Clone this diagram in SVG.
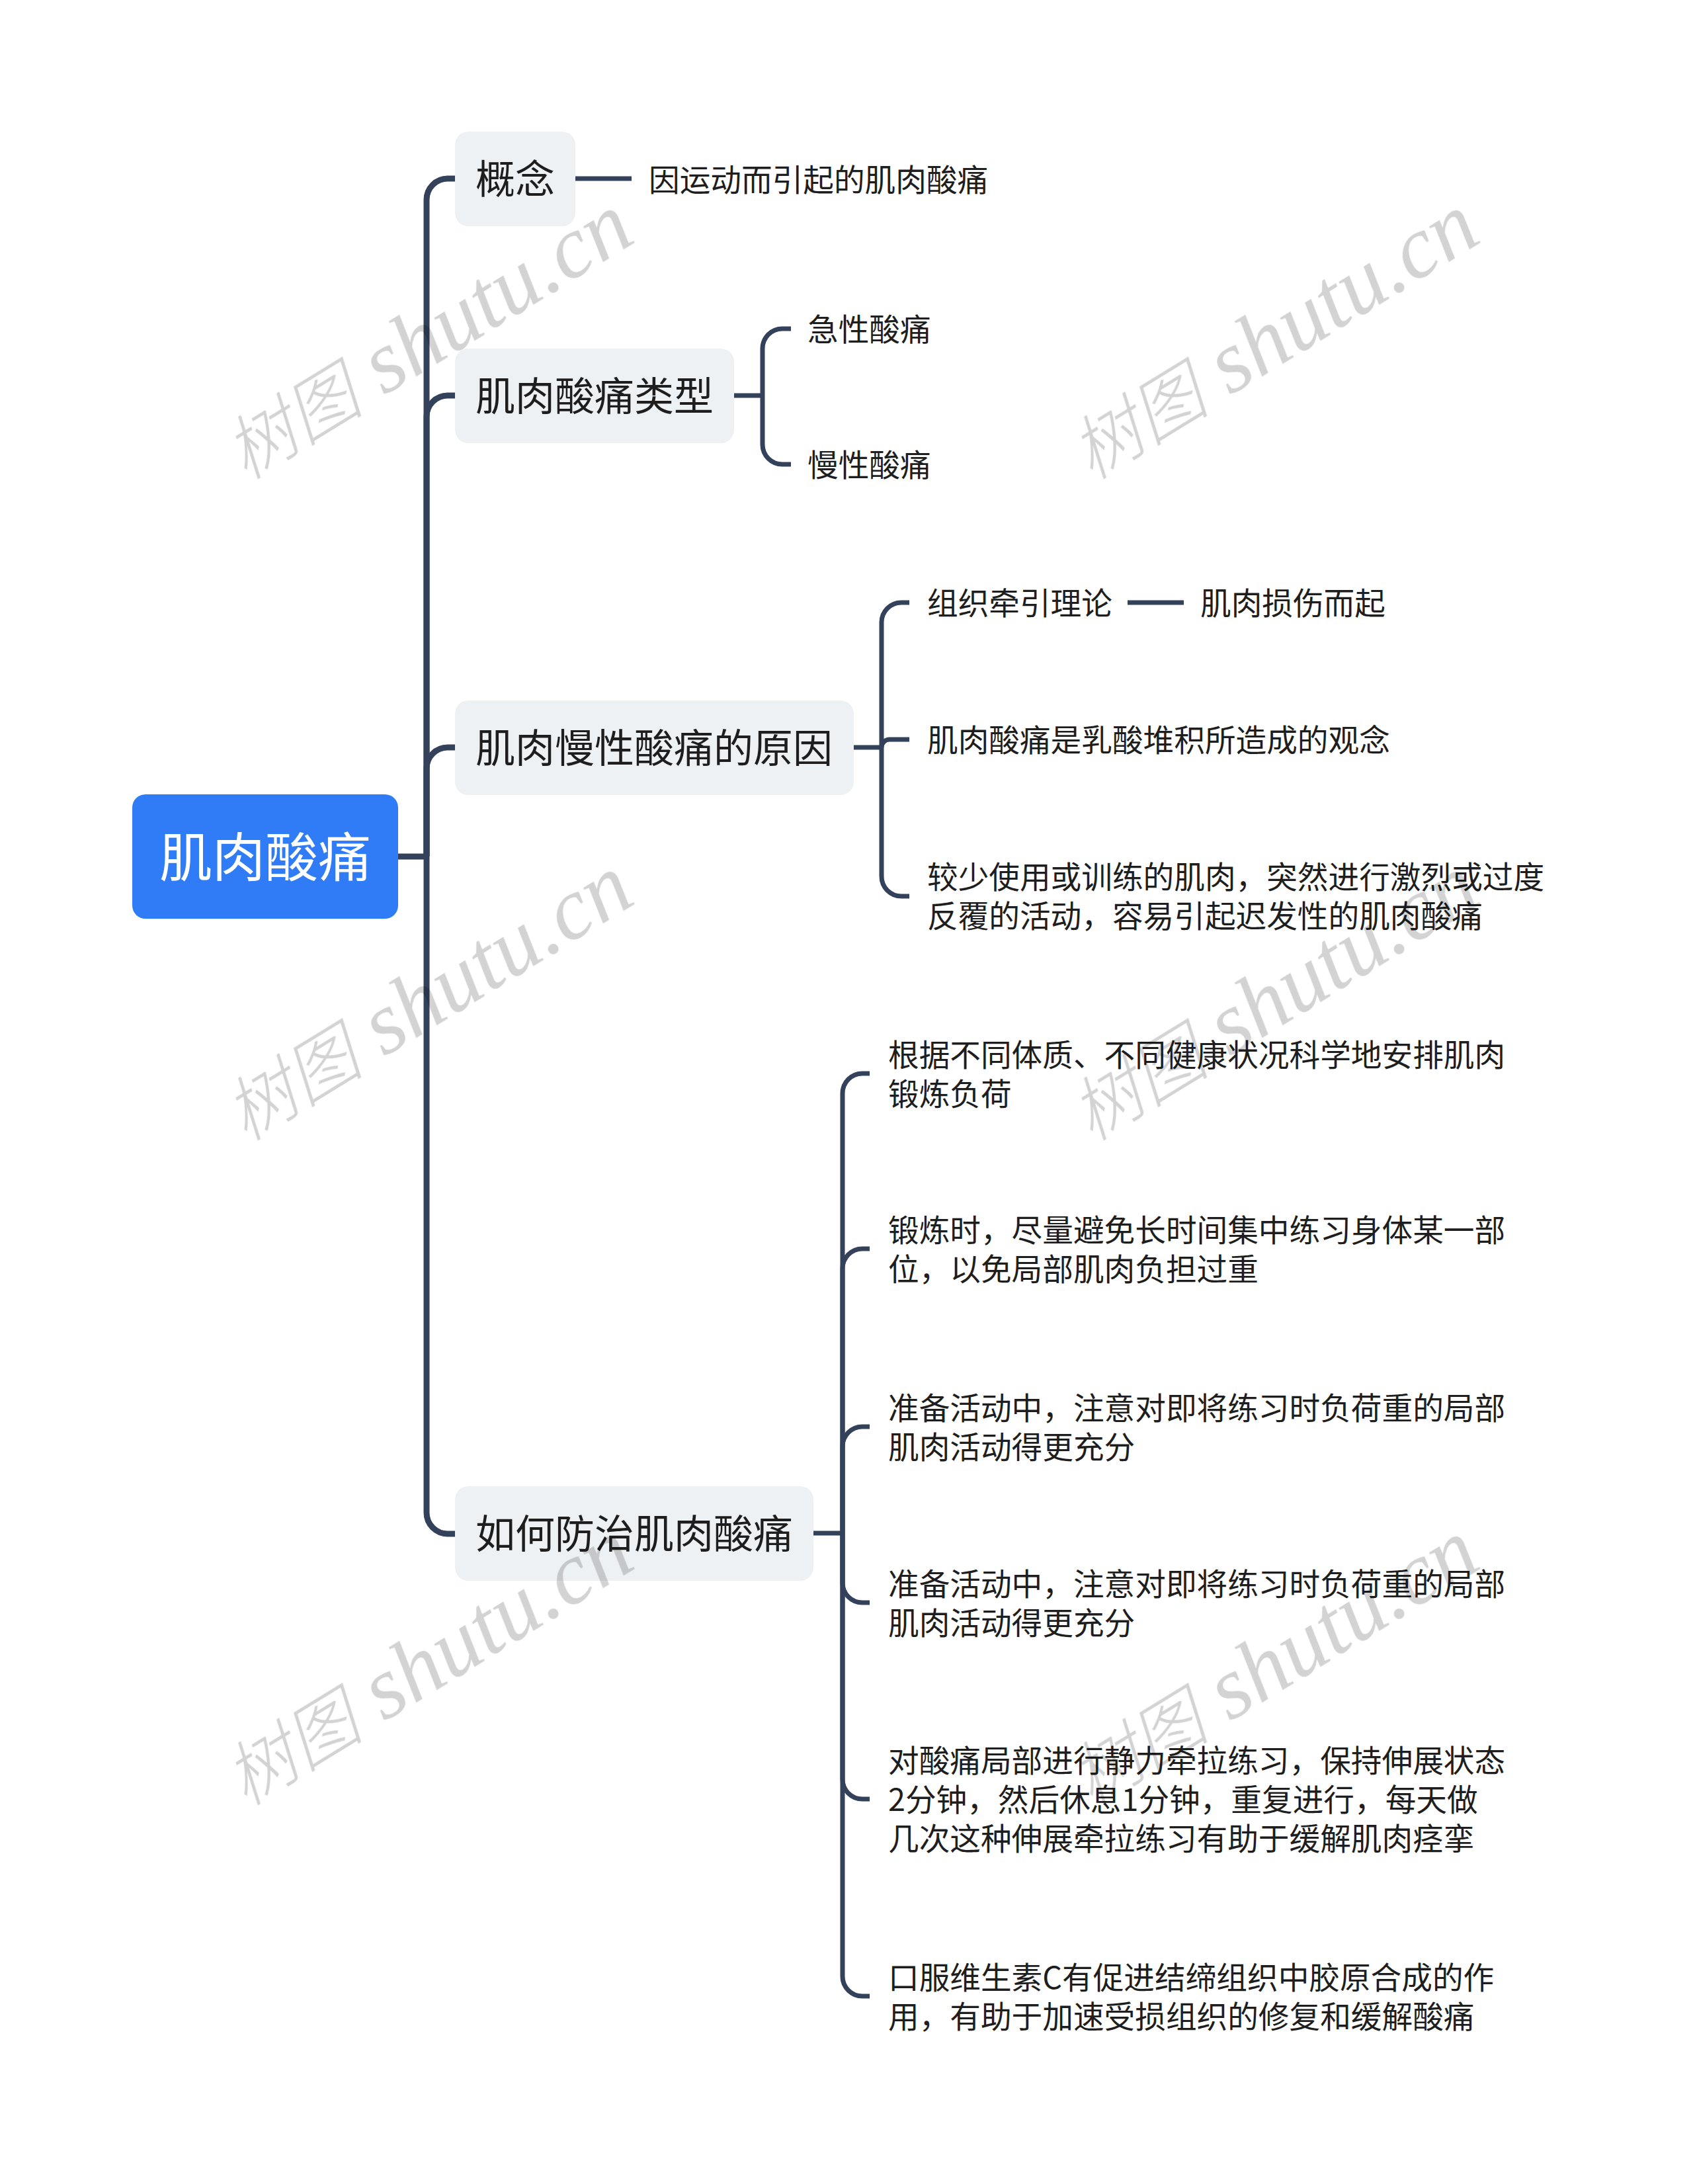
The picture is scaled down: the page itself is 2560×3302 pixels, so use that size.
<svg xmlns="http://www.w3.org/2000/svg" width="2560" height="3302" viewBox="0 0 2560 3302">
<style>
.root-box{fill:#2f7cf6;}
.box{fill:#eef1f4;}
.t0{font-family:"Noto Sans CJK SC","Noto Sans",sans-serif;font-size:80px;fill:#ffffff;}
.t1{font-family:"Noto Sans CJK SC","Noto Sans",sans-serif;font-size:60px;fill:#1e1e1e;}
.t2{font-family:"Noto Sans CJK SC","Noto Sans",sans-serif;font-size:46.67px;fill:#1e1e1e;}
.c-main{fill:none;stroke:#33425a;stroke-width:9;}
.c-sub{fill:none;stroke:#33425a;stroke-width:7;}
.wm{font-family:"Liberation Serif","Noto Sans CJK SC",serif;font-style:italic;font-size:134px;fill:#d3d3d3;text-anchor:middle;}
.wm .cjk{font-size:106px;font-weight:300;}
.wmg{mix-blend-mode:multiply;}
</style>
<rect x="0" y="0" width="2560" height="3302" fill="#ffffff"/>
<g id="connectors">
  <path class="c-main" d="M602,1295 H645"/>
  <path class="c-main" d="M645,1295 V302 A32,32 0 0 1 677,270 H688"/>
  <path class="c-main" d="M645,1295 V630 A32,32 0 0 1 677,598 H688"/>
  <path class="c-main" d="M645,1295 V1162 A32,32 0 0 1 677,1130 H688"/>
  <path class="c-main" d="M645,1295 V2287 A32,32 0 0 0 677,2319 H688"/>
  <path class="c-sub" d="M869,270 H955"/>
  <path class="c-sub" d="M1110,598 H1153"/>
  <path class="c-sub" d="M1153,598 V527 A30,30 0 0 1 1183,497 H1196"/>
  <path class="c-sub" d="M1153,598 V672 A30,30 0 0 0 1183,702 H1196"/>
  <path class="c-sub" d="M1291,1130 H1333"/>
  <path class="c-sub" d="M1333,1130 V941 A30,30 0 0 1 1363,911 H1375"/>
  <path class="c-sub" d="M1333,1130 A12,12 0 0 1 1345,1118 H1375"/>
  <path class="c-sub" d="M1333,1130 V1325 A30,30 0 0 0 1363,1355 H1375"/>
  <path class="c-sub" d="M1705,911 H1790"/>
  <path class="c-sub" d="M1230,2318 H1274"/>
  <path class="c-sub" d="M1274,2318 V1653 A30,30 0 0 1 1304,1623 H1315"/>
  <path class="c-sub" d="M1274,2318 V1918 A30,30 0 0 1 1304,1888 H1315"/>
  <path class="c-sub" d="M1274,2318 V2187 A30,30 0 0 1 1304,2157 H1315"/>
  <path class="c-sub" d="M1274,2318 V2393 A30,30 0 0 0 1304,2423 H1315"/>
  <path class="c-sub" d="M1274,2318 V2690 A30,30 0 0 0 1304,2720 H1315"/>
  <path class="c-sub" d="M1274,2318 V2988 A30,30 0 0 0 1304,3018 H1315"/>
</g>
<g id="root">
  <rect class="root-box" x="200" y="1201" width="402" height="188" rx="20"/>
  <text class="t0" x="401" y="1325" text-anchor="middle">肌肉酸痛</text>
</g>
<g id="n-gainian">
  <rect class="box" x="688" y="199" width="182" height="143" rx="20"/>
  <text class="t1" x="719" y="293">概念</text>
</g>
<g id="n-leixing">
  <rect class="box" x="688" y="527" width="422" height="143" rx="20"/>
  <text class="t1" x="719" y="621">肌肉酸痛类型</text>
</g>
<g id="n-yuanyin">
  <rect class="box" x="688" y="1059" width="603" height="143" rx="20"/>
  <text class="t1" x="719" y="1153">肌肉慢性酸痛的原因</text>
</g>
<g id="n-fangzhi">
  <rect class="box" x="688" y="2247" width="542" height="143" rx="20"/>
  <text class="t1" x="719" y="2341">如何防治肌肉酸痛</text>
</g>
<g id="n-gainian-1"><text class="t2" x="981" y="289">因运动而引起的肌肉酸痛</text></g>
<g id="n-jixing"><text class="t2" x="1221" y="515">急性酸痛</text></g>
<g id="n-manxing"><text class="t2" x="1221" y="720">慢性酸痛</text></g>
<g id="n-zuzhi"><text class="t2" x="1402" y="929">组织牵引理论</text></g>
<g id="n-sunshang"><text class="t2" x="1815" y="929">肌肉损伤而起</text></g>
<g id="n-rusuan"><text class="t2" x="1402" y="1136">肌肉酸痛是乳酸堆积所造成的观念</text></g>
<g id="n-jiaoshao"><text class="t2" x="1402" y="1343">较少使用或训练的肌肉，突然进行激烈或过度<tspan x="1402" dy="59">反覆的活动，容易引起迟发性的肌肉酸痛</tspan></text></g>
<g id="n-genju"><text class="t2" x="1343" y="1612">根据不同体质、不同健康状况科学地安排肌肉<tspan x="1343" dy="59">锻炼负荷</tspan></text></g>
<g id="n-duanlian"><text class="t2" x="1343" y="1877">锻炼时，尽量避免长时间集中练习身体某一部<tspan x="1343" dy="59">位，以免局部肌肉负担过重</tspan></text></g>
<g id="n-zhunbei1"><text class="t2" x="1343" y="2146">准备活动中，注意对即将练习时负荷重的局部<tspan x="1343" dy="59">肌肉活动得更充分</tspan></text></g>
<g id="n-zhunbei2"><text class="t2" x="1343" y="2412">准备活动中，注意对即将练习时负荷重的局部<tspan x="1343" dy="59">肌肉活动得更充分</tspan></text></g>
<g id="n-qianla"><text class="t2" x="1343" y="2679">对酸痛局部进行静力牵拉练习，保持伸展状态<tspan x="1343" dy="59">2分钟，然后休息1分钟，重复进行，每天做</tspan><tspan x="1343" dy="59">几次这种伸展牵拉练习有助于缓解肌肉痉挛</tspan></text></g>
<g id="n-weishengsu"><text class="t2" x="1343" y="3007">口服维生素C有促进结缔组织中胶原合成的作<tspan x="1343" dy="59">用，有助于加速受损组织的修复和缓解酸痛</tspan></text></g>
<g id="watermarks" class="wmg">
  <text class="wm" transform="translate(647,511) rotate(-31.5)" y="40"><tspan class="cjk">树图</tspan> shutu.cn</text>
  <text class="wm" transform="translate(1926,511) rotate(-31.5)" y="40"><tspan class="cjk">树图</tspan> shutu.cn</text>
  <text class="wm" transform="translate(647,1511) rotate(-31.5)" y="40"><tspan class="cjk">树图</tspan> shutu.cn</text>
  <text class="wm" transform="translate(1926,1511) rotate(-31.5)" y="40"><tspan class="cjk">树图</tspan> shutu.cn</text>
  <text class="wm" transform="translate(647,2516) rotate(-31.5)" y="40"><tspan class="cjk">树图</tspan> shutu.cn</text>
  <text class="wm" transform="translate(1926,2516) rotate(-31.5)" y="40"><tspan class="cjk">树图</tspan> shutu.cn</text>
</g>
</svg>
